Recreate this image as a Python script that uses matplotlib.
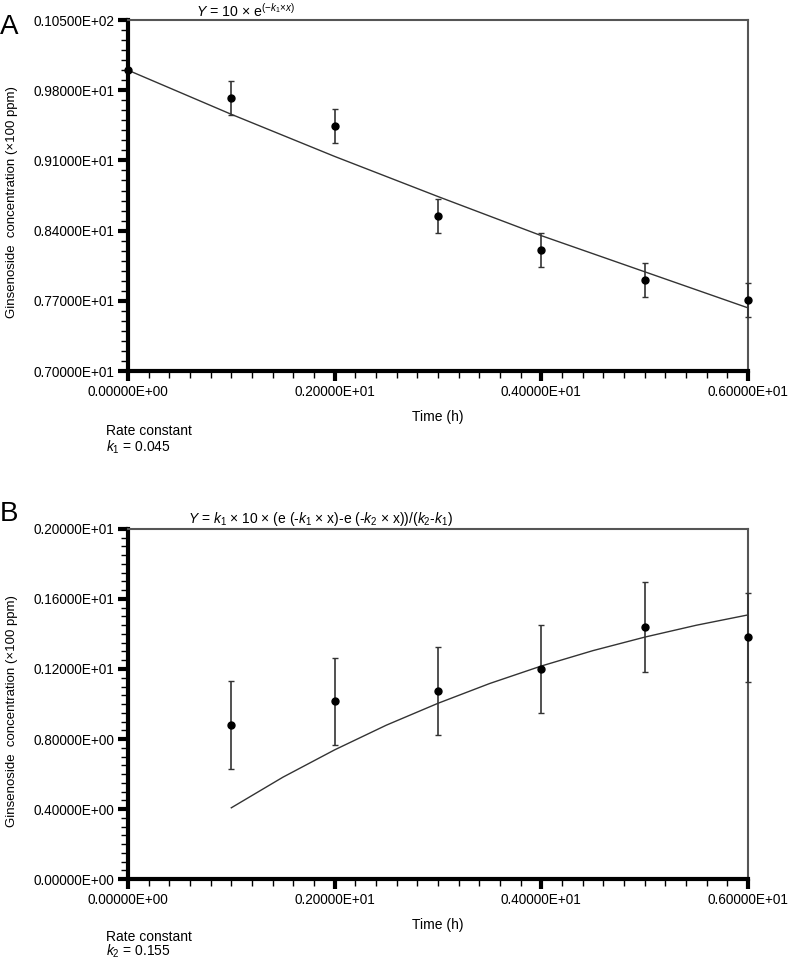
import math

import matplotlib
matplotlib.use("Agg")
import matplotlib.pyplot as plt
from matplotlib.ticker import FixedLocator, MultipleLocator, FuncFormatter

plt.rcParams['font.family'] = ['Liberation Sans', 'DejaVu Sans']
plt.rcParams['mathtext.fontset'] = 'custom'
plt.rcParams['mathtext.rm'] = 'Liberation Sans'
plt.rcParams['mathtext.it'] = 'Liberation Sans:italic'

# 数据 (读取自图)
time_h = [0, 1, 2, 3, 4, 5, 6]

conc_a = [10.0, 9.72, 9.44, 8.55, 8.21, 7.91, 7.71]
err_a = [0.0, 0.17, 0.17, 0.17, 0.17, 0.17, 0.17]
fit_x_a = [0, 1, 2, 3, 4, 5, 6]
fit_y_a = [10.0, 9.56, 9.14, 8.74, 8.35, 7.99, 7.63]

time_b = [1, 2, 3, 4, 5, 6]
conc_b = [0.88, 1.015, 1.075, 1.20, 1.44, 1.38]
err_b = [0.25, 0.25, 0.25, 0.25, 0.255, 0.255]
fit_x_b = [1, 1.5, 2, 2.5, 3, 3.5, 4, 4.5, 5, 5.5, 6]
fit_y_b = [0.407, 0.582, 0.738, 0.879, 1.004, 1.117, 1.217, 1.305, 1.382, 1.450, 1.509]

x_ticks = [0, 2, 4, 6]
y_ticks_a = [7.0, 7.7, 8.4, 9.1, 9.8, 10.5]
y_ticks_b = [0.0, 0.4, 0.8, 1.2, 1.6, 2.0]


def sci(v, pos=None):
    # 0.10500E+02 这种格式
    if abs(v) < 1e-12:
        return '0.00000E+00'
    e = math.floor(math.log10(abs(v)) + 1e-9) + 1
    m = v / 10 ** e
    return '%.5fE%+03d' % (m, e)


def style_axes(ax, yticks, yminor):
    ax.set_xlim(0, 6)
    ax.set_ylim(yticks[0], yticks[-1])
    ax.xaxis.set_major_locator(FixedLocator(x_ticks))
    ax.xaxis.set_minor_locator(MultipleLocator(0.2))
    ax.yaxis.set_major_locator(FixedLocator(yticks))
    ax.yaxis.set_minor_locator(MultipleLocator(yminor))
    ax.xaxis.set_major_formatter(FuncFormatter(sci))
    ax.yaxis.set_major_formatter(FuncFormatter(sci))
    ax.tick_params(which='major', length=7, width=3, labelsize=9.8, pad=3)
    ax.tick_params(which='minor', length=5, width=1)
    for s in ['left', 'bottom']:
        ax.spines[s].set_linewidth(3)
        ax.spines[s].set_color('black')
    for s in ['top', 'right']:
        ax.spines[s].set_linewidth(1.5)
        ax.spines[s].set_color('#555555')
    ax.set_xlabel('Time (h)', fontsize=10, labelpad=8)
    ax.set_ylabel('Ginsenoside  concentration (×100 ppm)', fontsize=9.5)
    ax.yaxis.set_label_coords(-0.178, 0.48)


fig = plt.figure(figsize=(7.88, 9.59), dpi=100)

ax1 = fig.add_axes([0.1624, 0.6131, 0.7868, 0.366])
ax1.plot(fit_x_a, fit_y_a, color='#333333', lw=1, zorder=2)
ax1.errorbar(time_h, conc_a, yerr=err_a, fmt='o', color='black', ms=5,
             ecolor='#333333', elinewidth=1.2, capsize=2.5, capthick=1,
             clip_on=False, zorder=3)
style_axes(ax1, y_ticks_a, 0.1)
ax1.set_title(r'$Y$ = 10 × e$^{(-k_1×x)}$', fontsize=10.2, pad=2, x=0.19)

ax2 = fig.add_axes([0.1624, 0.0834, 0.7868, 0.365])
ax2.plot(fit_x_b, fit_y_b, color='#333333', lw=1, zorder=2)
ax2.errorbar(time_b, conc_b, yerr=err_b, fmt='o', color='black', ms=5,
             ecolor='#333333', elinewidth=1.2, capsize=2.5, capthick=1,
             clip_on=False, zorder=3)
style_axes(ax2, y_ticks_b, 0.05)
ax2.set_title(r'$Y$ = $k_1$ × 10 × (e (-$k_1$ × x)-e (-$k_2$ × x))/($k_2$-$k_1$)',
              fontsize=10, pad=4, x=0.31)

fig.text(0.0, 0.985, 'A', fontsize=20, va='top', ha='left')
fig.text(0.0, 0.478, 'B', fontsize=20, va='top', ha='left')

fig.text(106 / 788, 1 - 431 / 959, 'Rate constant', fontsize=10, va='center')
fig.text(106 / 788, 1 - 447 / 959, r'$k_1$ = 0.045', fontsize=10, va='center')
fig.text(106 / 788, 1 - 937 / 959, 'Rate constant', fontsize=10, va='center')
fig.text(106 / 788, 1 - 951 / 959, r'$k_2$ = 0.155', fontsize=10, va='center')

fig.savefig('out.png', dpi=100)
